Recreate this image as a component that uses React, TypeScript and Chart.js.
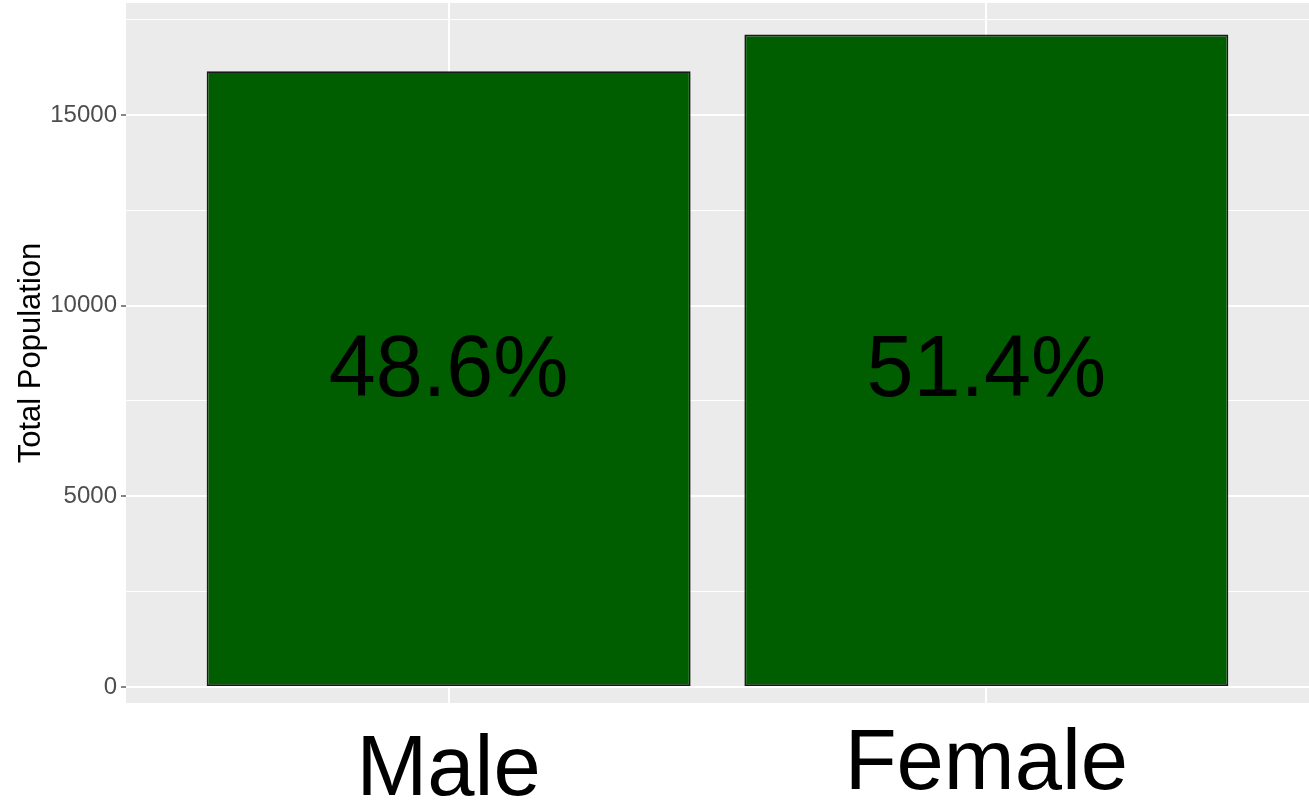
import React, { useEffect, useRef } from 'react';
import { Chart, registerables } from 'chart.js';

Chart.register(...registerables);

// ---- data ----
const categories = ['Male', 'Female'];
const population = [16144, 17106];
const categoryPositions = [1, 2];
const majorTicks = [0, 5000, 10000, 15000];
const minorTicks = [2500, 7500, 12500, 17500];
const percentLabelValue = 8460;

export default function App() {
  const ref = useRef<HTMLCanvasElement>(null);

  useEffect(() => {
    document.body.style.margin = '0';
    const total = population.reduce((a, b) => a + b, 0);
    const percentLabels = population.map((v) => ((v / total) * 100).toFixed(1) + '%');

    const panelBg = {
      id: 'panelBg',
      beforeDraw(chart: any) {
        const { ctx, chartArea: a } = chart;
        ctx.save();
        ctx.fillStyle = '#EBEBEB';
        ctx.fillRect(a.left, a.top, a.right - a.left, a.bottom - a.top);
        ctx.restore();
      },
    };

    const pctPlugin = {
      id: 'pctLabels',
      afterDatasetsDraw(chart: any) {
        const { ctx } = chart;
        const meta = chart.getDatasetMeta(0);
        const yPix = chart.scales.y.getPixelForValue(percentLabelValue);
        const size = 88;
        meta.data.forEach((bar: any, i: number) => {
          ctx.save();
          ctx.font = 'normal normal 88px Arial, "Liberation Sans", sans-serif';
          ctx.fillStyle = '#000000';
          ctx.textAlign = 'center';
          ctx.textBaseline = 'alphabetic';
          ctx.translate(bar.x, yPix + (0.716 * size) / 2);
          ctx.scale(0.96, 1);
          ctx.fillText(percentLabels[i], 0, 0);
          ctx.restore();
        });
      },
    };

    const isMajor = (v: number) => majorTicks.includes(v);

    const chart = new Chart(ref.current as HTMLCanvasElement, {
      type: 'bar',
      data: {
        datasets: [
          {
            data: categoryPositions.map((x, i) => ({ x, y: population[i] })),
            backgroundColor: '#005E00',
            borderColor: '#1A1A1A',
            borderWidth: 1.8,
            borderSkipped: false,
            barPercentage: 0.9,
            categoryPercentage: 1,
          } as any,
        ],
      },
      options: {
        animation: false,
        responsive: true,
        maintainAspectRatio: false,
        devicePixelRatio: 1,
        layout: { padding: { top: 3, right: 0, left: 0, bottom: 0 } },
        plugins: { legend: { display: false }, tooltip: { enabled: false } },
        scales: {
          x: {
            type: 'linear',
            min: 0.4,
            max: 2.6,
            offset: false,
            afterBuildTicks: (s: any) => {
              s.ticks = categoryPositions.map((v) => ({ value: v }));
            },
            afterFit: (s: any) => {
              s.height = 99;
              s.paddingLeft = 0;
              s.paddingRight = 0;
            },
            border: { display: false },
            grid: {
              color: '#FFFFFF',
              lineWidth: 2,
              drawTicks: false,
              offset: false,
            },
            ticks: {
              padding: 20,
              color: '#000000',
              maxRotation: 0,
              autoSkip: false,
              font: (ctx: any) => ({
                family: 'Arial, "Liberation Sans", sans-serif',
                size: 85,
                lineHeight: ctx.index === 0 ? '97px' : '85px',
              }),
              callback: (_v: any, i: number) => categories[i],
            },
          },
          y: {
            type: 'linear',
            min: -420,
            max: 17935,
            afterBuildTicks: (s: any) => {
              s.ticks = [...majorTicks, ...minorTicks]
                .sort((a, b) => a - b)
                .map((v) => ({ value: v }));
            },
            afterFit: (s: any) => {
              s.width = 126;
              s.paddingTop = 0;
              s.paddingBottom = 0;
            },
            border: { display: false },
            grid: {
              color: '#FFFFFF',
              lineWidth: (ctx: any) => (ctx.tick && isMajor(ctx.tick.value) ? 2 : 1),
              tickColor: (ctx: any) => (ctx.tick && isMajor(ctx.tick.value) ? '#333333' : 'rgba(0,0,0,0)'),
              tickWidth: 1.2,
              tickLength: 5,
            },
            ticks: {
              padding: 4,
              color: '#4D4D4D',
              autoSkip: false,
              font: { family: 'Arial, "Liberation Sans", sans-serif', size: 24 },
              callback: (v: any) => (isMajor(Number(v)) ? String(v) : ''),
            },
            title: {
              display: true,
              text: 'Total Population',
              color: '#000000',
              font: { family: 'Arial, "Liberation Sans", sans-serif', size: 31 },
              padding: { top: 13, bottom: 0 },
            },
          },
        },
      },
      plugins: [panelBg, pctPlugin],
    } as any);

    return () => chart.destroy();
  }, []);

  return (
    <div style={{ width: 1309, height: 802, position: 'relative' }}>
      <canvas ref={ref} />
    </div>
  );
}
